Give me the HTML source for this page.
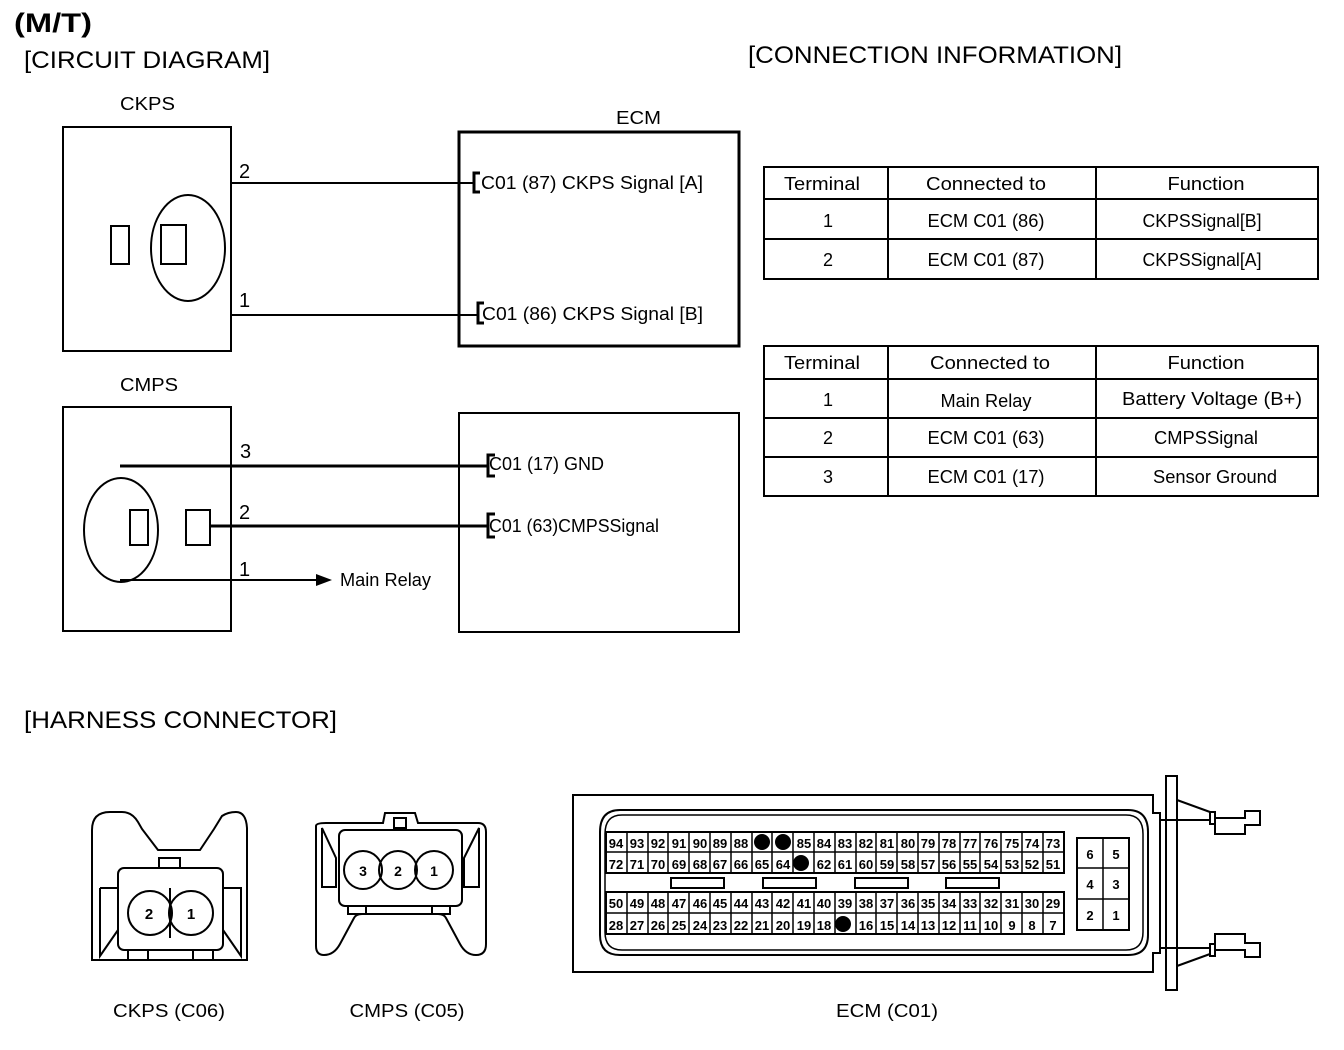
<!DOCTYPE html>
<html><head><meta charset="utf-8"><style>
html,body{margin:0;padding:0;background:#fff}
svg{display:block}
text{font-family:"Liberation Sans",sans-serif;fill:#000}
.c{font-size:13px;text-anchor:middle;font-weight:bold}
</style></head><body>
<svg width="1344" height="1050" viewBox="0 0 1344 1050" xmlns="http://www.w3.org/2000/svg">
<text x="14" y="32" font-size="27" font-weight="bold" textLength="78" lengthAdjust="spacingAndGlyphs">(M/T)</text>
<text x="24" y="68" font-size="24" textLength="246" lengthAdjust="spacingAndGlyphs">[CIRCUIT DIAGRAM]</text>
<text x="748" y="63" font-size="24" textLength="374" lengthAdjust="spacingAndGlyphs">[CONNECTION INFORMATION]</text>
<text x="24" y="728" font-size="24" textLength="313" lengthAdjust="spacingAndGlyphs">[HARNESS CONNECTOR]</text>

<!-- CKPS -->
<text x="120" y="110" font-size="18" textLength="55" lengthAdjust="spacingAndGlyphs">CKPS</text>
<rect x="63" y="127" width="168" height="224" fill="none" stroke="#000" stroke-width="2"/>
<rect x="111" y="226" width="18" height="38" fill="none" stroke="#000" stroke-width="2"/>
<ellipse cx="188" cy="248" rx="37" ry="53" fill="none" stroke="#000" stroke-width="2"/>
<rect x="161" y="225" width="25" height="39" fill="none" stroke="#000" stroke-width="2"/>
<text x="239" y="178" font-size="20">2</text>
<line x1="231" y1="183" x2="473" y2="183" stroke="#000" stroke-width="2"/>
<text x="239" y="307" font-size="20">1</text>
<line x1="231" y1="315" x2="477" y2="315" stroke="#000" stroke-width="2"/>
<text x="616" y="124" font-size="18" textLength="45" lengthAdjust="spacingAndGlyphs">ECM</text>
<rect x="459" y="132" width="280" height="214" fill="none" stroke="#000" stroke-width="3"/>
<path d="M480,173 H474 V192 H480" fill="none" stroke="#000" stroke-width="3"/>
<text x="481" y="189" font-size="18" textLength="222" lengthAdjust="spacingAndGlyphs">C01 (87)   CKPS Signal [A]</text>
<path d="M484,303 H478 V323 H484" fill="none" stroke="#000" stroke-width="3"/>
<text x="482" y="320" font-size="18" textLength="221" lengthAdjust="spacingAndGlyphs">C01 (86)   CKPS Signal [B]</text>

<!-- CMPS -->
<text x="120" y="391" font-size="18" textLength="58" lengthAdjust="spacingAndGlyphs">CMPS</text>
<rect x="63" y="407" width="168" height="224" fill="none" stroke="#000" stroke-width="2"/>
<ellipse cx="121" cy="530" rx="37" ry="52" fill="none" stroke="#000" stroke-width="2"/>
<rect x="130" y="510" width="18" height="35" fill="none" stroke="#000" stroke-width="2"/>
<rect x="186" y="510" width="24" height="35" fill="none" stroke="#000" stroke-width="2"/>
<text x="240" y="458" font-size="20">3</text>
<line x1="120" y1="466" x2="487" y2="466" stroke="#000" stroke-width="3"/>
<text x="239" y="519" font-size="20">2</text>
<line x1="210" y1="526" x2="487" y2="526" stroke="#000" stroke-width="3"/>
<text x="239" y="576" font-size="20">1</text>
<line x1="120" y1="580" x2="318" y2="580" stroke="#000" stroke-width="2"/>
<polygon points="316,574 332,580 316,586" fill="#000"/>
<text x="340" y="586" font-size="18" textLength="91" lengthAdjust="spacingAndGlyphs">Main Relay</text>
<rect x="459" y="413" width="280" height="219" fill="none" stroke="#000" stroke-width="2"/>
<path d="M495,455 H488 V476 H495" fill="none" stroke="#000" stroke-width="3"/>
<text x="489" y="470" font-size="18" textLength="115" lengthAdjust="spacingAndGlyphs">C01 (17) GND</text>
<path d="M495,514 H488 V537 H495" fill="none" stroke="#000" stroke-width="3"/>
<text x="489" y="532" font-size="18" textLength="170" lengthAdjust="spacingAndGlyphs">C01 (63)CMPSSignal</text>

<!-- Tables -->
<g stroke="#000" stroke-width="2" fill="none">
<rect x="764" y="167" width="554" height="112"/>
<line x1="764" y1="199" x2="1318" y2="199"/>
<line x1="764" y1="239" x2="1318" y2="239"/>
<line x1="888" y1="167" x2="888" y2="279"/>
<line x1="1096" y1="167" x2="1096" y2="279"/>
<rect x="764" y="346" width="554" height="150"/>
<line x1="764" y1="379" x2="1318" y2="379"/>
<line x1="764" y1="418" x2="1318" y2="418"/>
<line x1="764" y1="457" x2="1318" y2="457"/>
<line x1="888" y1="346" x2="888" y2="496"/>
<line x1="1096" y1="346" x2="1096" y2="496"/>
</g>
<g font-size="18" text-anchor="middle" lengthAdjust="spacingAndGlyphs">
<text x="822" y="190" textLength="76" lengthAdjust="spacingAndGlyphs">Terminal</text><text x="986" y="190" textLength="120" lengthAdjust="spacingAndGlyphs">Connected to</text><text x="1206" y="190" textLength="77" lengthAdjust="spacingAndGlyphs">Function</text>
<text x="828" y="227">1</text><text x="986" y="227" textLength="117" lengthAdjust="spacingAndGlyphs">ECM C01 (86)</text><text x="1202" y="227" textLength="119" lengthAdjust="spacingAndGlyphs">CKPSSignal[B]</text>
<text x="828" y="266">2</text><text x="986" y="266" textLength="117" lengthAdjust="spacingAndGlyphs">ECM C01 (87)</text><text x="1202" y="266" textLength="119" lengthAdjust="spacingAndGlyphs">CKPSSignal[A]</text>
<text x="822" y="369" textLength="76" lengthAdjust="spacingAndGlyphs">Terminal</text><text x="990" y="369" textLength="120" lengthAdjust="spacingAndGlyphs">Connected to</text><text x="1206" y="369" textLength="77" lengthAdjust="spacingAndGlyphs">Function</text>
<text x="828" y="406">1</text><text x="986" y="407" textLength="91" lengthAdjust="spacingAndGlyphs">Main Relay</text><text x="1212" y="405" textLength="180" lengthAdjust="spacingAndGlyphs">Battery Voltage (B+)</text>
<text x="828" y="444">2</text><text x="986" y="444" textLength="117" lengthAdjust="spacingAndGlyphs">ECM C01 (63)</text><text x="1206" y="444" textLength="104" lengthAdjust="spacingAndGlyphs">CMPSSignal</text>
<text x="828" y="483">3</text><text x="986" y="483" textLength="117" lengthAdjust="spacingAndGlyphs">ECM C01 (17)</text><text x="1215" y="483" textLength="124" lengthAdjust="spacingAndGlyphs">Sensor Ground</text>
</g>

<!-- CKPS connector -->
<g stroke="#000" stroke-width="2" fill="none">
<path d="M92,830 Q92,812 110,812 L122,812 Q132,812 138,822 L142,829 L158,850 L200,850 L214,829 L222,816 Q228,812 236,812 Q246,812 247,828 L247,960 L92,960 Z"/>
<rect x="159" y="858" width="21" height="10"/>
<rect x="118" y="868" width="105" height="82" rx="6"/>
<circle cx="150" cy="913" r="22"/>
<circle cx="191" cy="913" r="22"/>
<line x1="170" y1="888" x2="170" y2="938"/>
<path d="M100,888 H118 M100,888 V956 L118,930 M223,888 H241 V956 L223,930"/>
<path d="M128,950 V960 M148,950 V960 M193,950 V960 M213,950 V960"/>
</g>
<text x="149" y="919" font-size="15" font-weight="bold" text-anchor="middle">2</text>
<text x="191" y="919" font-size="15" font-weight="bold" text-anchor="middle">1</text>
<text x="169" y="1017" font-size="18" text-anchor="middle" textLength="112" lengthAdjust="spacingAndGlyphs">CKPS (C06)</text>

<!-- CMPS connector -->
<g stroke="#000" stroke-width="2" fill="none">
<path d="M316,826 Q316,823 326,823 L383,823 L385,813 L415,813 L418,823 L478,823 Q486,823 486,832 L486,944 Q486,955 476,955 Q466,955 460,944 L446,918 Q444,914 438,914 L362,914 Q356,914 354,918 L340,944 Q334,955 324,955 Q316,955 316,946 Z"/>
<rect x="394" y="818" width="12" height="10"/>
<rect x="339" y="830" width="123" height="76" rx="6"/>
<circle cx="363" cy="870" r="19"/>
<circle cx="398" cy="870" r="19"/>
<circle cx="434" cy="870" r="19"/>
<path d="M322,828 L336,858 V887 H322 Z M479,828 L464,858 V887 H479 Z"/>
<rect x="348" y="906" width="18" height="8"/>
<rect x="432" y="906" width="18" height="8"/>
</g>
<text x="363" y="876" font-size="14" font-weight="bold" text-anchor="middle">3</text>
<text x="398" y="876" font-size="14" font-weight="bold" text-anchor="middle">2</text>
<text x="434" y="876" font-size="14" font-weight="bold" text-anchor="middle">1</text>
<text x="407" y="1017" font-size="18" text-anchor="middle" textLength="115" lengthAdjust="spacingAndGlyphs">CMPS (C05)</text>

<!-- ECM connector -->
<g stroke="#000" fill="none">
<path d="M573,795 H1153 V813 H1160 V953 H1153 V972 H573 Z" stroke-width="2"/>
<path d="M620,810 H1128 Q1148,810 1148,832 V935 Q1148,955 1128,955 H620 Q600,955 600,935 V832 Q600,810 620,810 Z" stroke-width="2"/>
<path d="M622,815 H1126 Q1143,815 1143,834 V932 Q1143,950 1126,950 H622 Q605,950 605,932 V834 Q605,815 622,815 Z" stroke-width="1.5"/>
<rect x="1166" y="776" width="11" height="214" stroke-width="2"/>
<path d="M1160,820 H1210 M1160,948 H1210 M1177,800 L1210,812 M1177,966 L1210,954" stroke-width="2"/>
<rect x="1210" y="812" width="5" height="12" stroke-width="2"/>
<rect x="1210" y="944" width="5" height="12" stroke-width="2"/>
<path d="M1215,818 H1245 V811 H1260 V825 H1245 V834 H1215 Z" stroke-width="2"/>
<path d="M1215,950 H1245 V957 H1260 V943 H1245 V934 H1215 Z" stroke-width="2"/>
<rect x="606" y="832" width="458" height="41" stroke-width="2"/>
<rect x="606" y="892" width="458" height="42" stroke-width="2"/>
<line x1="606" y1="852" x2="1064" y2="852" stroke-width="1.5"/>
<line x1="606" y1="913" x2="1064" y2="913" stroke-width="1.5"/>
<path d="M627,832V873 M648,832V873 M668,832V873 M689,832V873 M710,832V873 M731,832V873 M752,832V873 M772,832V873 M793,832V873 M814,832V873 M835,832V873 M856,832V873 M876,832V873 M897,832V873 M918,832V873 M939,832V873 M960,832V873 M980,832V873 M1001,832V873 M1022,832V873 M1043,832V873
M627,892V934 M648,892V934 M668,892V934 M689,892V934 M710,892V934 M731,892V934 M752,892V934 M772,892V934 M793,892V934 M814,892V934 M835,892V934 M856,892V934 M876,892V934 M897,892V934 M918,892V934 M939,892V934 M960,892V934 M980,892V934 M1001,892V934 M1022,892V934 M1043,892V934" stroke-width="1.5"/>
<rect x="671" y="878" width="53" height="10" stroke-width="2"/>
<rect x="763" y="878" width="53" height="10" stroke-width="2"/>
<rect x="855" y="878" width="53" height="10" stroke-width="2"/>
<rect x="946" y="878" width="53" height="10" stroke-width="2"/>
<rect x="1077" y="838" width="52" height="92" stroke-width="2"/>
<path d="M1103,838V930 M1077,868H1129 M1077,899H1129" stroke-width="1.5"/>
</g>
<circle cx="762" cy="842" r="8"/><circle cx="783" cy="842" r="8"/>
<circle cx="801" cy="863" r="8"/><circle cx="843" cy="924" r="8"/>
<g>
<text class="c" x="616" y="848">94</text><text class="c" x="637" y="848">93</text><text class="c" x="658" y="848">92</text><text class="c" x="679" y="848">91</text><text class="c" x="700" y="848">90</text><text class="c" x="720" y="848">89</text><text class="c" x="741" y="848">88</text><text class="c" x="804" y="848">85</text><text class="c" x="824" y="848">84</text><text class="c" x="845" y="848">83</text><text class="c" x="866" y="848">82</text><text class="c" x="887" y="848">81</text><text class="c" x="908" y="848">80</text><text class="c" x="928" y="848">79</text><text class="c" x="949" y="848">78</text><text class="c" x="970" y="848">77</text><text class="c" x="991" y="848">76</text><text class="c" x="1012" y="848">75</text><text class="c" x="1032" y="848">74</text><text class="c" x="1053" y="848">73</text>
<text class="c" x="616" y="869">72</text><text class="c" x="637" y="869">71</text><text class="c" x="658" y="869">70</text><text class="c" x="679" y="869">69</text><text class="c" x="700" y="869">68</text><text class="c" x="720" y="869">67</text><text class="c" x="741" y="869">66</text><text class="c" x="762" y="869">65</text><text class="c" x="783" y="869">64</text><text class="c" x="824" y="869">62</text><text class="c" x="845" y="869">61</text><text class="c" x="866" y="869">60</text><text class="c" x="887" y="869">59</text><text class="c" x="908" y="869">58</text><text class="c" x="928" y="869">57</text><text class="c" x="949" y="869">56</text><text class="c" x="970" y="869">55</text><text class="c" x="991" y="869">54</text><text class="c" x="1012" y="869">53</text><text class="c" x="1032" y="869">52</text><text class="c" x="1053" y="869">51</text>
<text class="c" x="616" y="908">50</text><text class="c" x="637" y="908">49</text><text class="c" x="658" y="908">48</text><text class="c" x="679" y="908">47</text><text class="c" x="700" y="908">46</text><text class="c" x="720" y="908">45</text><text class="c" x="741" y="908">44</text><text class="c" x="762" y="908">43</text><text class="c" x="783" y="908">42</text><text class="c" x="804" y="908">41</text><text class="c" x="824" y="908">40</text><text class="c" x="845" y="908">39</text><text class="c" x="866" y="908">38</text><text class="c" x="887" y="908">37</text><text class="c" x="908" y="908">36</text><text class="c" x="928" y="908">35</text><text class="c" x="949" y="908">34</text><text class="c" x="970" y="908">33</text><text class="c" x="991" y="908">32</text><text class="c" x="1012" y="908">31</text><text class="c" x="1032" y="908">30</text><text class="c" x="1053" y="908">29</text>
<text class="c" x="616" y="930">28</text><text class="c" x="637" y="930">27</text><text class="c" x="658" y="930">26</text><text class="c" x="679" y="930">25</text><text class="c" x="700" y="930">24</text><text class="c" x="720" y="930">23</text><text class="c" x="741" y="930">22</text><text class="c" x="762" y="930">21</text><text class="c" x="783" y="930">20</text><text class="c" x="804" y="930">19</text><text class="c" x="824" y="930">18</text><text class="c" x="866" y="930">16</text><text class="c" x="887" y="930">15</text><text class="c" x="908" y="930">14</text><text class="c" x="928" y="930">13</text><text class="c" x="949" y="930">12</text><text class="c" x="970" y="930">11</text><text class="c" x="991" y="930">10</text><text class="c" x="1012" y="930">9</text><text class="c" x="1032" y="930">8</text><text class="c" x="1053" y="930">7</text>
<text class="c" x="1090" y="859">6</text><text class="c" x="1116" y="859">5</text>
<text class="c" x="1090" y="889">4</text><text class="c" x="1116" y="889">3</text>
<text class="c" x="1090" y="920">2</text><text class="c" x="1116" y="920">1</text>
</g>
<text x="887" y="1017" font-size="18" text-anchor="middle" textLength="102" lengthAdjust="spacingAndGlyphs">ECM (C01)</text>
</svg>
</body></html>
